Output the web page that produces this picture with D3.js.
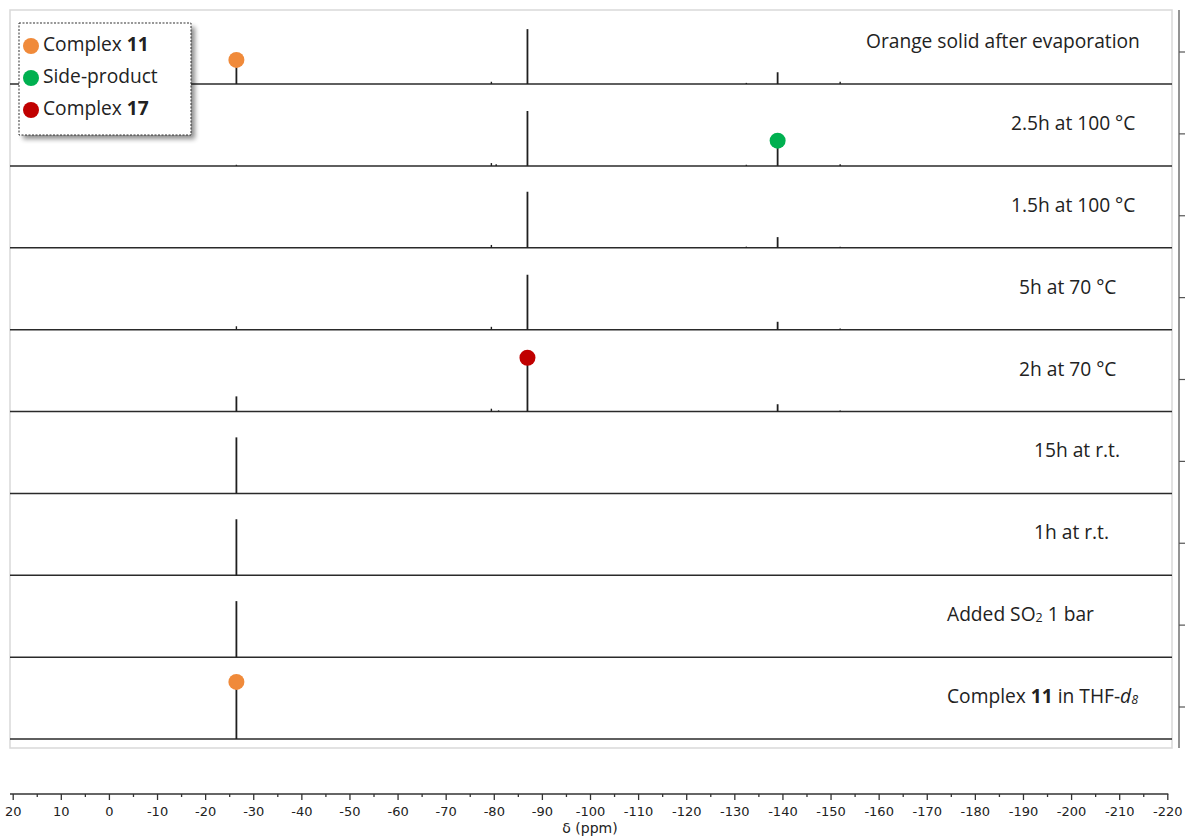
<!DOCTYPE html>
<html><head><meta charset="utf-8">
<script src="https://cdn.jsdelivr.net/npm/d3@7"></script>
<style>
html,body{margin:0;padding:0;background:#fff;}
svg{display:block;}
</style></head>
<body>
<svg id="chart" width="1187" height="836"></svg>
<script>
// ---------------- DATA ----------------
// spectra, top to bottom; each label is a list of text segments (b = bold, i = italic, sub = subscript)
const spectrumLabels = [
  [{t:"Orange solid after evaporation"}],
  [{t:"2.5h at 100 °C"}],
  [{t:"1.5h at 100 °C"}],
  [{t:"5h at 70 °C"}],
  [{t:"2h at 70 °C"}],
  [{t:"15h at r.t."}],
  [{t:"1h at r.t."}],
  [{t:"Added SO"},{t:"2",sub:1},{t:" 1 bar"}],
  [{t:"Complex "},{t:"11",b:1},{t:" in THF-"},{t:"d",i:1},{t:"8",i:1,sub:1}]
];
// peaks per spectrum: [chemical shift (ppm), relative intensity]
const peaks0 = [[-26.5,43],[-79.5,4],[-87,98],[-132.5,2],[-139,21],[-152,4]];
const peaks1 = [[-26.5,2],[-79.5,5],[-80.5,3],[-87,98],[-132.5,2],[-139,45],[-152,3]];
const peaks2 = [[-79.5,5],[-87,100],[-132.5,2],[-139,19],[-152,2]];
const peaks3 = [[-26.5,6],[-79.5,5],[-87,98],[-139,14],[-152,2]];
const peaks4 = [[-26.5,27],[-79.5,5],[-81,2],[-87,96],[-139,13],[-152,2]];
const peaks5 = [[-26.5,100]];
const peaks6 = [[-26.5,100]];
const peaks7 = [[-26.5,100]];
const peaks8 = [[-26.5,102]];
const spectraPeaks = [peaks0,peaks1,peaks2,peaks3,peaks4,peaks5,peaks6,peaks7,peaks8];
// peak markers: spectrum index, ppm, species
const markerSpectrum = [0, 1, 4, 8];
const markerPpm      = [-26.5, -139, -87, -26.5];
const markerSpecies  = ["Complex 11", "Side-product", "Complex 17", "Complex 11"];
// legend
const legendItems = [
  [{t:"Complex "},{t:"11",b:1}],
  [{t:"Side-product"}],
  [{t:"Complex "},{t:"17",b:1}]
];
const legendSpecies = ["Complex 11","Side-product","Complex 17"];
// axis
const ppmDomain = [20, -220];
const majorTicks = d3.range(20, -221, -10);
const minorTicks = d3.range(15, -220, -10);
const axisTitle = "δ (ppm)";

// ---------------- LAYOUT / STYLE ----------------
const W = 1187, H = 836;
const frame = {left:10, right:1172, top:10, bottom:748};
const firstBaseline = 84, lastBaseline = 739;
const peakFullHeight = 56;
const labelStartX = [866, 1011, 1011, 1019, 1019, 1034, 1034, 947, 947];
const colors = {"Complex 11":"#F08A3A","Side-product":"#00B050","Complex 17":"#C00000"};
const labelFont = "'Open Sans', sans-serif";
const labelSize = 19.2;

const svg = d3.select("#chart");
const x = d3.scaleLinear().domain(ppmDomain).range([12.7, 1167.3]);
const baseline = d3.scaleLinear().domain([0, spectrumLabels.length-1]).range([firstBaseline, lastBaseline]);

// frame
svg.append("rect").attr("x",frame.left).attr("y",frame.top)
  .attr("width",frame.right-frame.left).attr("height",frame.bottom-frame.top)
  .attr("fill","#fff").attr("stroke","#d9d9d9").attr("stroke-width",1.5);

function addRich(textSel, segs, size){
  segs.forEach(s=>{
    const ts = textSel.append("tspan").text(s.t);
    if (s.b) ts.attr("font-weight","bold");
    if (s.i) ts.attr("font-style","italic");
    if (s.sub) ts.attr("font-size", size*0.65).attr("baseline-shift","-22%");
  });
}

// spectra
spectraPeaks.forEach((pk, i) => {
  const b = baseline(i);
  const y = d3.scaleLinear().domain([0,100]).range([b, b - peakFullHeight]);
  const g = svg.append("g");
  g.append("line").attr("x1",frame.left).attr("x2",frame.right)
    .attr("y1",b).attr("y2",b).attr("stroke","#2a2a2a").attr("stroke-width",1.5);
  g.selectAll("line.pk").data(pk).join("line").attr("class","pk")
    .attr("x1",d=>x(d[0])).attr("x2",d=>x(d[0]))
    .attr("y1",b).attr("y2",d=>y(d[1]))
    .attr("stroke","#1f1f1f").attr("stroke-width",d=>d[1]>8?1.8:1.4);
  const t = svg.append("text").attr("x",labelStartX[i]).attr("y",b-41)
    .attr("dominant-baseline","middle")
    .attr("font-family",labelFont).attr("font-size",labelSize).attr("fill","#222");
  addRich(t, spectrumLabels[i], labelSize);
});

// markers
markerSpectrum.forEach((si, k) => {
  const b = baseline(si);
  const y = d3.scaleLinear().domain([0,100]).range([b, b - peakFullHeight]);
  const pk = spectraPeaks[si].find(p => p[0] === markerPpm[k]);
  svg.append("circle").attr("cx", x(markerPpm[k])).attr("cy", y(pk[1]))
    .attr("r",8).attr("fill",colors[markerSpecies[k]]);
});

// right axis
svg.append("line").attr("x1",1179).attr("x2",1179).attr("y1",frame.top).attr("y2",frame.bottom)
  .attr("stroke","#707070").attr("stroke-width",1.5);
svg.selectAll("line.rt").data(d3.range(spectrumLabels.length)).join("line").attr("class","rt")
  .attr("x1",1179).attr("x2",1185)
  .attr("y1",d=>baseline(d)-32).attr("y2",d=>baseline(d)-32)
  .attr("stroke","#555").attr("stroke-width",1.2);

// bottom axis
const axY = 794;
const axG = svg.append("g").attr("transform",`translate(0,${axY})`);
axG.append("line").attr("x1",10).attr("x2",x(-220)+1).attr("y1",0).attr("y2",0)
  .attr("stroke","#333").attr("stroke-width",1.5);
axG.append("g").call(d3.axisBottom(x).tickValues(minorTicks).tickSize(3).tickFormat(""))
  .call(g=>{g.select(".domain").remove(); g.selectAll("line").attr("stroke","#333").attr("stroke-width",1.3);});
axG.append("g").call(d3.axisBottom(x).tickValues(majorTicks).tickSize(6).tickPadding(7).tickFormat(d=>String(d)))
  .call(g=>{g.select(".domain").remove();
    g.selectAll("line").attr("stroke","#333").attr("stroke-width",1.3);
    g.selectAll("text").attr("font-family","'DejaVu Sans', sans-serif").attr("font-size",13).attr("fill","#222");});
svg.append("text").attr("x",590).attr("y",833).attr("text-anchor","middle")
  .attr("font-family","'DejaVu Sans', sans-serif").attr("font-size",14).attr("fill","#222").text(axisTitle);

// legend
const defs = svg.append("defs");
const f = defs.append("filter").attr("id","sh").attr("x","-10%").attr("y","-10%").attr("width","130%").attr("height","130%");
f.append("feGaussianBlur").attr("in","SourceAlpha").attr("stdDeviation",2.5);
f.append("feOffset").attr("dx",4).attr("dy",4).attr("result","o");
f.append("feComponentTransfer").append("feFuncA").attr("type","linear").attr("slope",0.45);
const fm = f.append("feMerge"); fm.append("feMergeNode"); fm.append("feMergeNode").attr("in","SourceGraphic");
const lg = svg.append("g");
lg.append("rect").attr("x",19).attr("y",23).attr("width",172).attr("height",112)
  .attr("fill","#fff").attr("filter","url(#sh)");
lg.append("rect").attr("x",19).attr("y",23).attr("width",172).attr("height",112)
  .attr("fill","none").attr("stroke","#333").attr("stroke-width",1).attr("stroke-dasharray","2,1.5");
legendItems.forEach((segs,k)=>{
  const cy = 46 + k*32;
  lg.append("circle").attr("cx",31).attr("cy",cy).attr("r",8).attr("fill",colors[legendSpecies[k]]);
  const t = lg.append("text").attr("x",43).attr("y",cy).attr("dominant-baseline","middle")
    .attr("font-family",labelFont).attr("font-size",labelSize).attr("fill","#222");
  addRich(t, segs, labelSize);
});
</script>
</body></html>
